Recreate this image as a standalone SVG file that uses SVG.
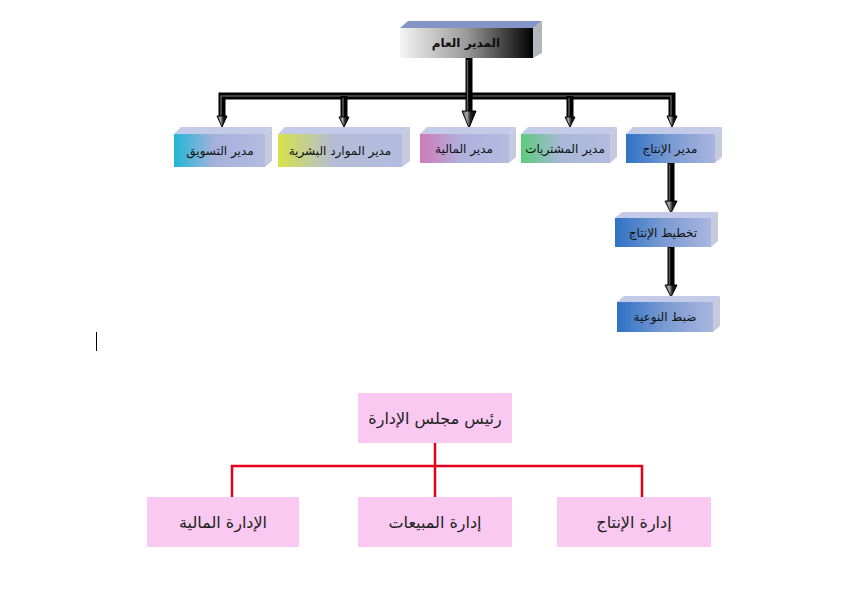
<svg xmlns="http://www.w3.org/2000/svg" width="841" height="606" viewBox="0 0 841 606">
<defs>
<linearGradient id="gTop" x1="0" y1="0" x2="1" y2="0"><stop offset="0" stop-color="#f4f4f4"/><stop offset="0.5" stop-color="#9a9a9a"/><stop offset="1" stop-color="#000"/></linearGradient>
<linearGradient id="gCyan" x1="0" y1="0" x2="1" y2="0"><stop offset="0" stop-color="#22b6d6"/><stop offset="0.45" stop-color="#a6b1db"/><stop offset="1" stop-color="#b3bce0"/></linearGradient>
<linearGradient id="gYel" x1="0" y1="0" x2="1" y2="0"><stop offset="0" stop-color="#d6e24a"/><stop offset="0.45" stop-color="#b4bcd6"/><stop offset="1" stop-color="#b3bce0"/></linearGradient>
<linearGradient id="gPink" x1="0" y1="0" x2="1" y2="0"><stop offset="0" stop-color="#d07ab8"/><stop offset="0.45" stop-color="#b0b0dc"/><stop offset="1" stop-color="#b3bce0"/></linearGradient>
<linearGradient id="gGreen" x1="0" y1="0" x2="1" y2="0"><stop offset="0" stop-color="#5ccc7a"/><stop offset="0.45" stop-color="#a9b8d8"/><stop offset="1" stop-color="#b3bce0"/></linearGradient>
<linearGradient id="gBlue" x1="0" y1="0" x2="1" y2="0"><stop offset="0" stop-color="#2f72c4"/><stop offset="0.5" stop-color="#7a9ad2"/><stop offset="1" stop-color="#a9b6df"/></linearGradient>
<linearGradient id="gHead" x1="0" y1="0" x2="1" y2="0"><stop offset="0" stop-color="#444"/><stop offset="0.35" stop-color="#aaa"/><stop offset="0.6" stop-color="#222"/><stop offset="1" stop-color="#000"/></linearGradient>
<style>
.tf{fill:#c3cbe8}
.tft{fill:#8494c6}
.sf{fill:#c6cadf}
.sft{fill:#b4b4bc}
.t{font-family:"DejaVu Sans","Liberation Sans",sans-serif;font-size:12px;fill:#111;text-anchor:middle}
.tb{font-weight:bold}
.pipe{stroke:#000;stroke-width:7;fill:none}
.pipeIn{stroke:#5a5a5a;stroke-width:1.5;fill:none}
.head{fill:url(#gHead);stroke:#000;stroke-width:1}
.pk{fill:#f9c9f1}
.t2{font-family:"DejaVu Serif","DejaVu Sans",serif;font-size:16px;fill:#222;text-anchor:middle}
.red{stroke:#e3001b;stroke-width:2.5;fill:none}
</style>
</defs>
<rect width="841" height="606" fill="#fff"/>

<g id="connectors">
  <path class="pipe" d="M222 117 V96 H672 V117"/>
  <path class="pipeIn" d="M221 117 V96 H671 V117"/>
  <path class="pipe" d="M344 96 V118 M570 96 V118"/>
  <path class="pipeIn" d="M343 98 V118 M569 98 V118"/>
  <path class="pipe" d="M469 58 V114"/>
  <path class="pipeIn" d="M467.5 60 V114"/>
  <polygon class="head" points="462,111 476,111 469,128"/>
  <polygon class="head" points="217,116 227,116 222,127"/>
  <polygon class="head" points="339,117 349,117 344,127"/>
  <polygon class="head" points="565,117 575,117 570,127"/>
  <polygon class="head" points="667,116 677,116 672,127"/>
  <path class="pipe" d="M671 163 V203 M671 247 V287"/>
  <path class="pipeIn" d="M669.5 164 V203 M669.5 248 V287"/>
  <polygon class="head" points="665,201 677,201 671,213"/>
  <polygon class="head" points="665,285 677,285 671,297"/>
  <path class="red" d="M435 443 V497 M232 497 V466 H642 V497"/>
</g>

<g id="n-general">
  <polygon class="tft" points="400,28 408,21 542,21 533,28"/>
  <polygon class="sft" points="533,28 542,21 542,53 533,58"/>
  <rect x="400" y="28" width="133" height="30" fill="url(#gTop)"/>
  <text class="t tb" x="466" y="47">المدير العام</text>
</g>

<g id="n-marketing">
  <polygon class="tf" points="174,134 181,127 272,127 265,134"/>
  <polygon class="sf" points="265,134 272,127 272,161 265,167"/>
  <rect x="174" y="134" width="91" height="33" fill="url(#gCyan)"/>
  <text class="t" x="220" y="155">مدير التسويق</text>
</g>

<g id="n-hr">
  <polygon class="tf" points="278,134 285,127 410,127 402,134"/>
  <polygon class="sf" points="402,134 410,127 410,161 402,167"/>
  <rect x="278" y="134" width="124" height="33" fill="url(#gYel)"/>
  <text class="t" x="340" y="155">مدير الموارد البشرية</text>
</g>

<g id="n-finance">
  <polygon class="tf" points="420,134 427,127 516,127 509,134"/>
  <polygon class="sf" points="509,134 516,127 516,157 509,163"/>
  <rect x="420" y="134" width="89" height="29" fill="url(#gPink)"/>
  <text class="t" x="464" y="153">مدير المالية</text>
</g>

<g id="n-purchasing">
  <polygon class="tf" points="521,134 528,127 617,127 610,134"/>
  <polygon class="sf" points="610,134 617,127 617,157 610,163"/>
  <rect x="521" y="134" width="89" height="29" fill="url(#gGreen)"/>
  <text class="t" x="565" y="153">مدير المشتريات</text>
</g>

<g id="n-production">
  <polygon class="tf" points="626,134 633,127 722,127 715,134"/>
  <polygon class="sf" points="715,134 722,127 722,157 715,163"/>
  <rect x="626" y="134" width="89" height="29" fill="url(#gBlue)"/>
  <text class="t" x="670" y="153">مدير الإنتاج</text>
</g>

<g id="n-planning">
  <polygon class="tf" points="615,218 622,212 718,212 711,218"/>
  <polygon class="sf" points="711,218 718,212 718,241 711,247"/>
  <rect x="615" y="218" width="96" height="29" fill="url(#gBlue)"/>
  <text class="t" x="663" y="237">تخطيط الإنتاج</text>
</g>

<g id="n-quality">
  <polygon class="tf" points="617,302 624,296 720,296 713,302"/>
  <polygon class="sf" points="713,302 720,296 720,326 713,332"/>
  <rect x="617" y="302" width="96" height="30" fill="url(#gBlue)"/>
  <text class="t" x="665" y="321">ضبط النوعية</text>
</g>

<line x1="96.5" y1="332" x2="96.5" y2="351" stroke="#000" stroke-width="1"/>

<g id="n-chairman">
  <rect class="pk" x="358" y="393" width="154" height="50"/>
  <text class="t2" x="435" y="424">رئيس مجلس الإدارة</text>
</g>
<g id="n-fin-dept">
  <rect class="pk" x="147" y="497" width="152" height="50"/>
  <text class="t2" x="223" y="528">الإدارة المالية</text>
</g>
<g id="n-sales-dept">
  <rect class="pk" x="358" y="497" width="154" height="50"/>
  <text class="t2" x="435" y="528">إدارة المبيعات</text>
</g>
<g id="n-prod-dept">
  <rect class="pk" x="557" y="497" width="154" height="50"/>
  <text class="t2" x="634" y="528">إدارة الإنتاج</text>
</g>
</svg>
